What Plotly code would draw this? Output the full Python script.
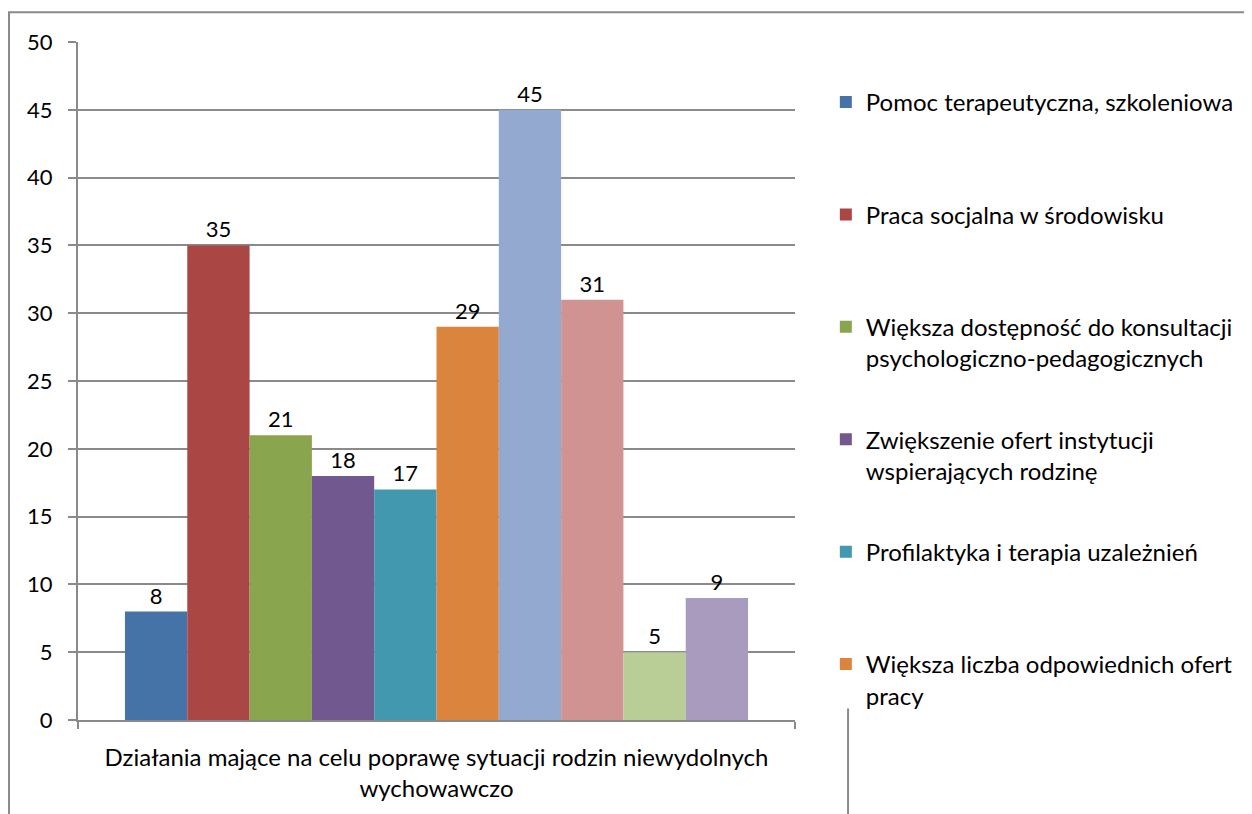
import plotly.graph_objects as go

kategoria = ["Działania mające na celu poprawę sytuacji rodzin niewydolnych<br>wychowawczo"]

serie = [
    "Pomoc terapeutyczna, szkoleniowa",
    "Praca socjalna w środowisku",
    "Większa dostępność do konsultacji<br>psychologiczno-pedagogicznych",
    "Zwiększenie ofert instytucji<br>wspierających rodzinę",
    "Profilaktyka i terapia uzależnień",
    "Większa liczba odpowiednich ofert<br>pracy",
    "Seria 7",
    "Seria 8",
    "Seria 9",
    "Seria 10",
]
wartosci = [8, 35, 21, 18, 17, 29, 45, 31, 5, 9]
kolory = ['#4572A7', '#AA4643', '#89A54E', '#71588F', '#4198AF',
          '#DB843D', '#93A9CF', '#D19392', '#B9CD96', '#A99BBD']
# only the first six entries are visible in the (clipped) legend
w_legendzie = [True] * 6 + [False] * 4

FONT = "Lato"
SIZE = 24
NUM_SIZE = 22

fig = go.Figure()

for nazwa, v, kolor, leg in zip(serie, wartosci, kolory, w_legendzie):
    # pad single-line names so every legend entry takes two lines
    nazwa_leg = nazwa if "<br>" in nazwa else nazwa + "<br> "
    fig.add_trace(go.Bar(
        x=kategoria,
        y=[v],
        name=nazwa_leg,
        marker=dict(color=kolor, line=dict(width=0)),
        text=[v],
        textposition='outside',
        textfont=dict(size=NUM_SIZE, color='black', family=FONT),
        cliponaxis=False,
        showlegend=leg,
        legendgroup=str(v),
    ))

# outer chart frame (partly cut off in the picture)
fig.add_shape(type='rect', xref='paper', yref='paper',
              x0=-0.0962, x1=1.7, y0=-0.3, y1=1.044,
              line=dict(color='#8a8a8a', width=2), layer='below')
fig.add_shape(type='line', xref='paper', yref='paper',
              x0=1.074, x1=1.074, y0=0.017, y1=-0.2,
              line=dict(color='#8a8a8a', width=2))

fig.update_layout(
    width=1244,
    height=806,
    margin=dict(l=70, r=457, t=34, b=91),
    paper_bgcolor='white',
    plot_bgcolor='white',
    barmode='group',
    bargap=0.131,
    bargroupgap=0,
    font=dict(family=FONT, size=SIZE, color='black'),
    showlegend=True,
    legend=dict(
        x=1.043, xanchor='left',
        y=0.944, yanchor='top',
        valign='top',
        tracegroupgap=47,
        font=dict(size=SIZE, family=FONT, color='black'),
        bgcolor='rgba(0,0,0,0)',
    ),
    xaxis=dict(
        showline=True, linecolor='#8a8a8a', linewidth=2,
        ticks='outside', tickson='boundaries', ticklen=7,
        tickcolor='#8a8a8a', tickwidth=2,
        tickfont=dict(size=SIZE, family=FONT),
        ticklabelstandoff=15,
        showgrid=False,
    ),
    yaxis=dict(
        range=[0, 50], dtick=5,
        showline=True, linecolor='#8a8a8a', linewidth=2,
        ticks='outside', ticklen=8, tickcolor='#8a8a8a', tickwidth=2,
        showgrid=True, gridcolor='#8a8a8a', gridwidth=2,
        zeroline=False,
        tickfont=dict(size=NUM_SIZE, family=FONT),
        ticklabelstandoff=11,
    ),
)

fig.write_html("out.html")
